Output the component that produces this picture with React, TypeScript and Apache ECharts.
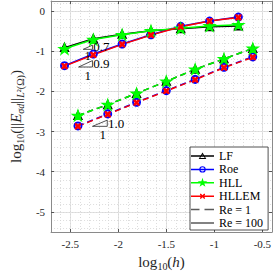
import React, { useEffect, useRef } from "react";
import * as echarts from "echarts";

// x = log10(h)
const xRe100 = [-2.56, -2.26, -1.96, -1.66, -1.35, -1.05, -0.75];
const xRe1 = [-2.42, -2.11, -1.81, -1.5, -1.2, -0.9, -0.6];

// y = log10(||E|| L2), Re = 100 (solid)
const lf100 = [-0.91, -0.69, -0.58, -0.49, -0.44, -0.39, -0.37];
const roe100 = [-1.36, -1.07, -0.82, -0.59, -0.38, -0.25, -0.15];
const hll100 = [-0.94, -0.71, -0.59, -0.49, -0.43, -0.37, -0.34];
const hllem100 = [-1.37, -1.09, -0.83, -0.6, -0.39, -0.25, -0.16];

// Re = 1 (dashed)
const lf1 = [-2.6, -2.33, -2.05, -1.75, -1.45, -1.19, -0.93];
const roe1 = [-2.86, -2.56, -2.27, -1.98, -1.7, -1.4, -1.14];
const hll1 = [-2.6, -2.33, -2.05, -1.75, -1.45, -1.19, -0.93];
const hllem1 = [-2.87, -2.57, -2.28, -1.99, -1.71, -1.41, -1.15];

// slope triangles: [x0, x1, yLow, yHigh]
const slopeTriangles = [
  [-2.365, -2.269, -0.953, -0.849],
  [-2.413, -2.269, -1.393, -1.234],
  [-2.269, -2.115, -2.87, -2.716],
];
// slope labels (left anchored)
const slopeLabels: [number, number, string][] = [
  [-2.262, -0.88, "0.7"],
  [-2.262, -1.313, "0.9"],
  [-2.108, -2.793, "1.0"],
];
// run labels (centered)
const runLabels: [number, number, string][] = [
  [-2.317, -1.114, "1"],
  [-2.317, -1.595, "1"],
  [-2.162, -3.07, "1"],
];

const xMajor = [-2.5, -2, -1.5, -1, -0.5];
const yMajor = [-5, -4, -3, -2, -1, 0];
const xMinor: number[] = [];
for (let i = -26; i <= -5; i++) xMinor.push(i / 10);
const yMinor: number[] = [];
for (let i = -27; i <= 1; i++) yMinor.push(i / 5);

const FONT = "Liberation Serif";
const STAR =
  "path://M0,-10L2.245,-3.09L9.51,-3.09L3.633,1.18L5.88,8.09L0,3.82L-5.88,8.09L-3.633,1.18L-9.51,-3.09L-2.245,-3.09Z";
const CROSS =
  "path://M0,0L2,0L5,3L8,0L10,0L10,2L7,5L10,8L10,10L8,10L5,7L2,10L0,10L0,8L3,5L0,2Z";

// legend icons drawn in a 23 x 12 box
const BOX = "M0,0L0.01,0L0,0.01ZM23,12L22.99,12L23,11.99Z";
const BAR = "M0,5.25L23,5.25L23,6.75L0,6.75Z";
const ICON_LF =
  "path://" + BOX + BAR +
  "M11.5,2.6L15.3,8.9L7.7,8.9ZM11.5,4.5L9.2,8.0L13.8,8.0Z";
const ICON_ROE =
  "path://" + BOX + BAR +
  "M14.7,6A3.2,3.2 0 1,1 8.3,6A3.2,3.2 0 1,1 14.7,6ZM13.6,6A2.1,2.1 0 1,0 9.4,6A2.1,2.1 0 1,0 13.6,6Z";
const ICON_HLL =
  "path://" + BOX + BAR +
  "M11.5,1L12.62,4.455L16.255,4.455L13.32,6.59L14.44,10.045L11.5,7.91L8.56,10.045L9.68,6.59L6.745,4.455L10.38,4.455Z";
const ICON_HLLEM =
  "path://" + BOX + BAR +
  "M9,3.5L10,3.5L11.5,5L13,3.5L14,3.5L14,4.5L12.5,6L14,7.5L14,8.5L13,8.5L11.5,7L10,8.5L9,8.5L9,7.5L10.5,6L9,4.5Z";
const ICON_RE1 =
  "path://" + BOX + "M0,5.25L8.5,5.25L8.5,6.75L0,6.75ZM13.5,5.25L23,5.25L23,6.75L13.5,6.75Z";
const ICON_RE100 = "path://" + BOX + BAR;

const zip = (xs: number[], ys: number[]) => xs.map((x, i) => [x, ys[i]]);

const methods = [
  { name: "LF", color: "#000000", symbol: "emptyTriangle", size: 7, d100: lf100, d1: lf1, icon: ICON_LF },
  { name: "Roe", color: "#0000ff", symbol: "emptyCircle", size: 7, d100: roe100, d1: roe1, icon: ICON_ROE },
  { name: "HLL", color: "#00ff00", symbol: STAR, size: [11, 10.5], d100: hll100, d1: hll1, icon: ICON_HLL },
  { name: "HLLEM", color: "#ff0000", symbol: CROSS, size: 5, d100: hllem100, d1: hllem1, icon: ICON_HLLEM },
];

export default function App() {
  const ref = useRef<HTMLDivElement>(null);
  useEffect(() => {
    if (!ref.current) return;
    const chart = echarts.init(ref.current, undefined, { renderer: "svg" });

    const series: any[] = [];
    for (const re of [100, 1]) {
      for (const m of methods) {
        series.push({
          type: "line",
          name: m.name,
          data: zip(re === 100 ? xRe100 : xRe1, re === 100 ? m.d100 : m.d1),
          symbol: m.symbol,
          symbolSize: m.size,
          showAllSymbol: true,
          lineStyle: { color: m.color, width: 1.5, type: re === 100 ? "solid" : [6, 4] },
          itemStyle: { color: m.color, borderColor: m.color, borderWidth: 1.2 },
          z: 3,
        });
      }
    }
    series.push({
      type: "line", name: "Re = 1", data: [], symbol: "none",
      lineStyle: { color: "#5a5a5a", width: 1.5, type: [5, 3] }, itemStyle: { color: "#5a5a5a" },
    });
    series.push({
      type: "line", name: "Re = 100", data: [], symbol: "none",
      lineStyle: { color: "#5a5a5a", width: 1.5, type: "solid" }, itemStyle: { color: "#5a5a5a" },
    });
    for (const t of slopeTriangles) {
      series.push({
        type: "line",
        data: [[t[0], t[2]], [t[1], t[2]], [t[1], t[3]], [t[0], t[2]]],
        symbol: "none", silent: true,
        lineStyle: { color: "#262626", width: 0.8 }, z: 4,
      });
    }

    const axisLineStyle = { color: "#8a8a8a", width: 1 };
    const tickStyle = { color: "#555", width: 1 };
    const labelBase = { fontFamily: FONT, fontSize: 11, color: "#262626" };
    const richName = {
      m: { fontFamily: FONT, fontSize: 15, color: "#262626", lineHeight: 19 },
      i: { fontFamily: FONT, fontSize: 15, fontStyle: "italic", color: "#262626", lineHeight: 19 },
      s: { fontFamily: FONT, fontSize: 10, color: "#262626", lineHeight: 10, verticalAlign: "bottom" },
      si: { fontFamily: FONT, fontSize: 10, fontStyle: "italic", color: "#262626", lineHeight: 10, verticalAlign: "bottom" },
    };

    const legendData = [
      ...methods.map((m) => ({ name: m.name, icon: m.icon })),
      { name: "Re = 1", icon: ICON_RE1 },
      { name: "Re = 100", icon: ICON_RE100 },
    ];

    chart.setOption({
      animation: false,
      backgroundColor: "#ffffff",
      grid: { left: 32, right: 2, top: 1, bottom: 36, containLabel: false },
      legend: {
        data: legendData,
        orient: "vertical",
        left: 190,
        top: 147,
        padding: [3, 5, 1, 1],
        itemGap: 1.4,
        itemWidth: 23,
        itemHeight: 12,
        backgroundColor: "#ffffff",
        borderColor: "#262626",
        borderWidth: 0.8,
        itemStyle: { borderWidth: 0 },
        textStyle: { fontFamily: FONT, fontSize: 12, color: "#000", lineHeight: 12 },
        selectedMode: false,
      },
      xAxis: [
        {
          type: "value", min: -2.7, max: -0.4, position: "bottom",
          axisLine: { show: true, onZero: false, lineStyle: axisLineStyle },
          axisTick: { show: true, inside: true, length: 3, customValues: xMajor, lineStyle: tickStyle },
          axisLabel: { customValues: xMajor, formatter: (v: number) => String(v), margin: 6, ...labelBase },
          splitLine: { show: true, lineStyle: { color: "#e2e2e2", width: 1 } },
          name: "{m|log}{s|10}{m|(}{i|h}{m|)}",
          nameLocation: "middle",
          nameGap: 20,
          nameTextStyle: { rich: richName },
        },
        {
          type: "value", min: -2.7, max: -0.4, position: "bottom",
          axisLine: { show: false }, axisLabel: { show: false },
          axisTick: { show: false, customValues: xMinor },
          splitLine: { show: true, lineStyle: { color: "#d4d4d4", width: 0.8, type: [1, 2] } },
        },
        {
          type: "value", min: -2.7, max: -0.4, position: "top",
          axisLine: { show: true, onZero: false, lineStyle: axisLineStyle },
          axisTick: { show: true, inside: true, length: 3, customValues: xMajor, lineStyle: tickStyle },
          axisLabel: { show: false }, splitLine: { show: false },
        },
      ],
      yAxis: [
        {
          type: "value", min: -5.5, max: 0.25, position: "left",
          axisLine: { show: true, onZero: false, lineStyle: axisLineStyle },
          axisTick: { show: true, inside: true, length: 3, customValues: yMajor, lineStyle: tickStyle },
          axisLabel: { customValues: yMajor, formatter: (v: number) => String(v), margin: 6, ...labelBase },
          splitLine: { show: true, lineStyle: { color: "#e2e2e2", width: 1 } },
          name: "{m|log}{s|10}{m|(||}{i|E}{si|σd}{m|||}{si|L}{s|²(Ω)}{m|)}",
          nameLocation: "middle",
          nameGap: 13,
          nameRotate: 90,
          nameTextStyle: { rich: richName },
        },
        {
          type: "value", min: -5.5, max: 0.25, position: "left",
          axisLine: { show: false }, axisLabel: { show: false },
          axisTick: { show: false, customValues: yMinor },
          splitLine: { show: true, lineStyle: { color: "#d4d4d4", width: 0.8, type: [1, 2] } },
        },
        {
          type: "value", min: -5.5, max: 0.25, position: "right",
          axisLine: { show: true, onZero: false, lineStyle: axisLineStyle },
          axisTick: { show: true, inside: true, length: 3, customValues: yMajor, lineStyle: tickStyle },
          axisLabel: { show: false }, splitLine: { show: false },
        },
      ],
      series,
    });

    // annotation texts placed through the chart's own scales
    const toPx = (x: number, y: number) =>
      chart.convertToPixel({ xAxisIndex: 0, yAxisIndex: 0 }, [x, y]) as number[];
    const texts: any[] = [];
    for (const [x, y, t] of slopeLabels) {
      const p = toPx(x, y);
      texts.push({
        type: "text", x: p[0], y: p[1], z: 100, silent: true,
        style: { text: t, fontFamily: FONT, fontSize: 13, fill: "#000", align: "left", verticalAlign: "middle" },
      });
    }
    for (const [x, y, t] of runLabels) {
      const p = toPx(x, y);
      texts.push({
        type: "text", x: p[0], y: p[1], z: 100, silent: true,
        style: { text: t, fontFamily: FONT, fontSize: 13, fill: "#000", align: "center", verticalAlign: "middle" },
      });
    }
    chart.setOption({ graphic: texts });

    return () => chart.dispose();
  }, []);
  return (
    <div
      ref={ref}
      style={{ position: "fixed", left: 0, top: 0, width: 274, height: 276 }}
    />
  );
}
